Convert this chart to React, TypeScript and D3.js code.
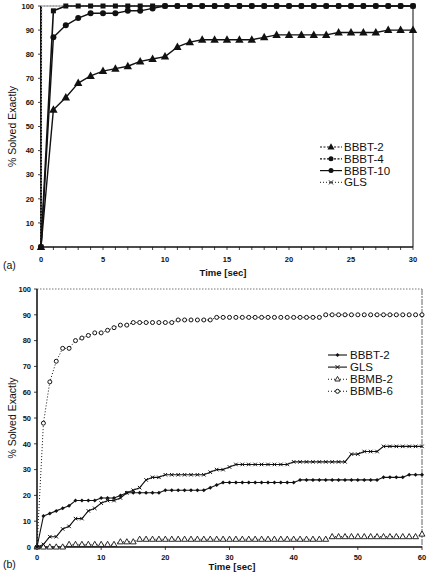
import React from "react";
import * as d3 from "d3";

// ---------- Data: chart (a) ----------
const timeA = [0,1,2,3,4,5,6,7,8,9,10,11,12,13,14,15,16,17,18,19,20,21,22,23,24,25,26,27,28,29,30];
const bbbt2A = [0,57,62,68,71,73,74,75,77,78,79,83,85,86,86,86,86,86,87,88,88,88,88,88,89,89,89,89,90,90,90];
const bbbt4A = [0,87,92,95,97,97,97,98,98,99,100,100,100,100,100,100,100,100,100,100,100,100,100,100,100,100,100,100,100,100,100];
const bbbt10A = [0,98,100,100,100,100,100,100,100,100,100,100,100,100,100,100,100,100,100,100,100,100,100,100,100,100,100,100,100,100,100];
const glsTimeA = [0,0.05,1,2,3,4,5,6,7,8,9,10,11,12,13,14,15,16,17,18,19,20,21,22,23,24,25,26,27,28,29,30];
const glsA = [0,100,100,100,100,100,100,100,100,100,100,100,100,100,100,100,100,100,100,100,100,100,100,100,100,100,100,100,100,100,100,100];
const xTicksA = [0,5,10,15,20,25,30];
const yTicks = [0,10,20,30,40,50,60,70,80,90,100];
const legendA = ["BBBT-2","BBBT-4","BBBT-10","GLS"];

// ---------- Data: chart (b) ----------
const timeB = [0,1,2,3,4,5,6,7,8,9,10,11,12,13,14,15,16,17,18,19,20,21,22,23,24,25,26,27,28,29,30,31,32,33,34,35,36,37,38,39,40,41,42,43,44,45,46,47,48,49,50,51,52,53,54,55,56,57,58,59,60];
const bbbt2B = [0,12,13,14,15,16,18,18,18,18,19,19,19,20,21,21,21,21,21,21,22,22,22,22,22,22,22,23,24,25,25,25,25,25,25,25,25,25,25,25,25,26,26,26,26,26,26,26,26,26,26,26,26,26,27,27,27,27,28,28,28];
const glsB = [0,1,4,4,7,8,11,11,14,15,17,18,18,19,21,22,23,26,27,27,28,28,28,28,28,28,28,29,30,30,31,32,32,32,32,32,32,32,32,32,33,33,33,33,33,33,33,33,33,36,36,37,37,37,39,39,39,39,39,39,39];
const bbmb2B = [0,0,0,0,0,1,1,1,1,1,1,1,1,2,2,2,3,3,3,3,3,3,3,3,3,3,3,3,3,3,3,3,3,3,3,3,3,3,3,3,3,3,3,3,3,3,4,4,4,4,4,4,4,4,4,4,4,4,4,4,5];
const bbmb6B = [0,48,64,72,77,77,80,81,82,83,83,84,85,86,86,87,87,87,87,87,87,87,88,88,88,88,88,88,89,89,89,89,89,89,89,89,89,89,89,89,89,89,89,89,89,90,90,90,90,90,90,90,90,90,90,90,90,90,90,90,90];
const xTicksB = [0,10,20,30,40,50,60];
const legendB = ["BBBT-2","GLS","BBMB-2","BBMB-6"];

const FONT = "'Liberation Sans', Arial, sans-serif";
const INK = "#111";

type MarkerType = "tri" | "circle" | "square" | "dot" | "x" | "otri" | "ocircle" | "none";

function Marker({ type, x, y, s }: { type: MarkerType; x: number; y: number; s: number }) {
  if (type === "tri") {
    return <path d={`M${x},${y - s * 0.75}L${x + s * 0.7},${y + s * 0.5}L${x - s * 0.7},${y + s * 0.5}Z`} fill={INK} />;
  }
  if (type === "otri") {
    return <path d={`M${x},${y - s * 0.7}L${x + s * 0.65},${y + s * 0.45}L${x - s * 0.65},${y + s * 0.45}Z`} fill="#fff" stroke={INK} strokeWidth={0.9} />;
  }
  if (type === "circle") return <circle cx={x} cy={y} r={s / 2} fill={INK} />;
  if (type === "ocircle") return <circle cx={x} cy={y} r={s / 2} fill="#fff" stroke={INK} strokeWidth={1} />;
  if (type === "square") return <rect x={x - s / 2} y={y - s / 2} width={s} height={s} fill={INK} />;
  if (type === "dot") return <path d={`M${x},${y - s / 2}L${x + s / 2},${y}L${x},${y + s / 2}L${x - s / 2},${y}Z`} fill={INK} />;
  if (type === "x") {
    const h = s / 2;
    return (
      <g stroke={INK} strokeWidth={1}>
        <line x1={x - h} y1={y - h} x2={x + h} y2={y + h} />
        <line x1={x - h} y1={y + h} x2={x + h} y2={y - h} />
      </g>
    );
  }
  return null;
}

function Series({ xs, ys, x, y, stroke, width, dash, marker, ms }: any) {
  const pts: [number, number][] = xs.map((t: number, i: number) => [x(t), y(ys[i])]);
  const line = d3.line()(pts) || "";
  return (
    <g>
      <path d={line} fill="none" stroke={stroke} strokeWidth={width} strokeDasharray={dash} strokeLinejoin="round" />
      {marker !== "none" && pts.map((p, i) => <Marker key={i} type={marker} x={p[0]} y={p[1]} s={ms} />)}
    </g>
  );
}

export default function App() {
  const xA = d3.scaleLinear().domain([0, 30]).range([41, 413]);
  const yA = d3.scaleLinear().domain([0, 100]).range([247, 6]);
  const xB = d3.scaleLinear().domain([0, 60]).range([37, 422]);
  const yB = d3.scaleLinear().domain([0, 100]).range([547, 289]);

  const minorA = d3.range(0, 31, 1);

  const legA: { dash: string | undefined; marker: MarkerType; color: string }[] = [
    { dash: "2,1.5", marker: "tri", color: INK },
    { dash: "2,1.5", marker: "circle", color: INK },
    { dash: undefined, marker: "circle", color: INK },
    { dash: "1,2", marker: "x", color: "#444" },
  ];
  const legB: { dash: string | undefined; marker: MarkerType }[] = [
    { dash: undefined, marker: "dot" },
    { dash: undefined, marker: "x" },
    { dash: "1,2", marker: "otri" },
    { dash: "1,2", marker: "ocircle" },
  ];

  return (
    <svg width={428} height={573} style={{ position: "fixed", left: 0, top: 0, background: "#fff" }} fontFamily={FONT}>
      <rect x={0} y={0} width={428} height={573} fill="#fff" />

      {/* ================= Chart (a) ================= */}
      <line x1={xA(0)} y1={yA(100)} x2={xA(30)} y2={yA(100)} stroke="#999" strokeWidth={1} />
      <line x1={xA(30)} y1={yA(100)} x2={xA(30)} y2={yA(0)} stroke="#333" strokeWidth={1.2} />
      <line x1={xA(0)} y1={yA(0)} x2={xA(30)} y2={yA(0)} stroke={INK} strokeWidth={1.4} />
      {minorA.map((t) => (
        <line key={t} x1={xA(t)} y1={yA(0)} x2={xA(t)} y2={yA(0) + 3} stroke={INK} strokeWidth={0.8} />
      ))}
      {xTicksA.map((t) => (
        <text key={t} x={xA(t)} y={yA(0) + 15} fontSize={7.5} fontWeight="bold" textAnchor="middle" fill={INK}>{t}</text>
      ))}
      <line x1={xA(0)} y1={yA(0)} x2={xA(0)} y2={yA(100)} stroke={INK} strokeWidth={2} />
      {yTicks.map((v) => (
        <g key={v}>
          <line x1={xA(0) - 3} y1={yA(v)} x2={xA(0)} y2={yA(v)} stroke={INK} strokeWidth={0.8} />
          <text x={xA(0) - 7} y={yA(v) + 2.7} fontSize={7.5} fontWeight="bold" textAnchor="end" fill={INK}>{v}</text>
        </g>
      ))}
      <text transform={`translate(16,${yA(50)}) rotate(-90)`} fontSize={10.5} textAnchor="middle" fill={INK}>% Solved Exactly</text>
      <text x={223} y={276} fontSize={9.5} fontWeight="bold" textAnchor="middle" fill={INK}>Time [sec]</text>
      <text x={3} y={269} fontSize={10.5} fill={INK}>(a)</text>

      <Series xs={glsTimeA} ys={glsA} x={xA} y={yA} stroke="#888" width={1.2} dash="1.5,1.5" marker="none" ms={0} />
      <Series xs={timeA} ys={bbbt2A} x={xA} y={yA} stroke={INK} width={1.4} marker="tri" ms={6} />
      <Series xs={timeA} ys={bbbt4A} x={xA} y={yA} stroke={INK} width={1.4} marker="circle" ms={6} />
      <Series xs={timeA} ys={bbbt10A} x={xA} y={yA} stroke={INK} width={1.6} marker="square" ms={5} />

      {legendA.map((name, i) => {
        const cy = 147 + i * 11.8;
        const s = legA[i];
        return (
          <g key={name}>
            <line x1={320} y1={cy} x2={342} y2={cy} stroke={s.color} strokeWidth={1.2} strokeDasharray={s.dash} />
            <Marker type={s.marker} x={331} y={cy} s={i === 3 ? 4 : 5} />
            <text x={344} y={cy + 4} fontSize={11.5} fill={INK}>{name}</text>
          </g>
        );
      })}

      {/* ================= Chart (b) ================= */}
      <line x1={xB(0)} y1={yB(100)} x2={xB(60)} y2={yB(100)} stroke="#777" strokeWidth={1} strokeDasharray="1.5,1.5" />
      <line x1={xB(60)} y1={yB(100)} x2={xB(60)} y2={yB(0)} stroke="#888" strokeWidth={1.3} strokeDasharray="6,1,2,1" />
      <line x1={xB(0)} y1={yB(0)} x2={xB(60)} y2={yB(0)} stroke={INK} strokeWidth={1.3} />
      {xTicksB.map((t) => (
        <g key={t}>
          <line x1={xB(t)} y1={yB(0)} x2={xB(t)} y2={yB(0) + 3} stroke={INK} strokeWidth={0.8} />
          <text x={xB(t)} y={yB(0) + 12.5} fontSize={7.5} fontWeight="bold" textAnchor="middle" fill={INK}>{t}</text>
        </g>
      ))}
      <line x1={xB(0)} y1={yB(0)} x2={xB(0)} y2={yB(100)} stroke="#333" strokeWidth={1.8} />
      {yTicks.map((v) => (
        <g key={v}>
          <line x1={xB(0) - 3} y1={yB(v)} x2={xB(0)} y2={yB(v)} stroke={INK} strokeWidth={0.8} />
          <text x={xB(0) - 6} y={yB(v) + 2.7} fontSize={7.5} fontWeight="bold" textAnchor="end" fill={INK}>{v}</text>
        </g>
      ))}
      <text transform={`translate(16,${yB(50)}) rotate(-90)`} fontSize={10.5} textAnchor="middle" fill={INK}>% Solved Exactly</text>
      <text x={232} y={569.5} fontSize={9.5} fontWeight="bold" textAnchor="middle" fill={INK}>Time [sec]</text>
      <text x={3} y={568} fontSize={10.5} fill={INK}>(b)</text>

      <Series xs={timeB} ys={bbmb6B} x={xB} y={yB} stroke={INK} width={1} dash="1,2" marker="ocircle" ms={4} />
      <Series xs={timeB} ys={bbmb2B} x={xB} y={yB} stroke={INK} width={1} dash="1,2" marker="otri" ms={4.5} />
      <Series xs={timeB} ys={glsB} x={xB} y={yB} stroke={INK} width={1.1} marker="x" ms={3.5} />
      <Series xs={timeB} ys={bbbt2B} x={xB} y={yB} stroke={INK} width={1.1} marker="dot" ms={4} />

      {legendB.map((name, i) => {
        const cy = 355 + i * 12.1;
        const s = legB[i];
        return (
          <g key={name}>
            <line x1={328} y1={cy} x2={347} y2={cy} stroke={INK} strokeWidth={1.1} strokeDasharray={s.dash} />
            <Marker type={s.marker} x={337.5} y={cy} s={4} />
            <text x={350} y={cy + 4} fontSize={11.5} fill={INK}>{name}</text>
          </g>
        );
      })}
    </svg>
  );
}
